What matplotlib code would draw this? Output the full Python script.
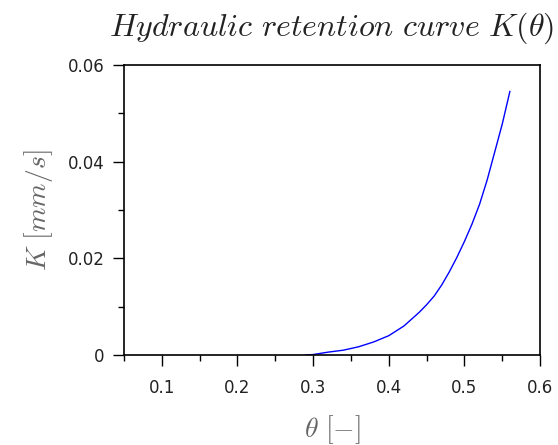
import numpy as np
import matplotlib
matplotlib.use('Agg')
from matplotlib import pyplot as plt
from matplotlib.ticker import MultipleLocator

plt.rcParams['mathtext.fontset'] = 'cm'
plt.rcParams['font.family'] = ['DejaVu Sans']

# values
theta = [0.29, 0.30, 0.32, 0.34, 0.36, 0.38, 0.40, 0.42, 0.44, 0.45,
         0.46, 0.47, 0.48, 0.49, 0.50, 0.51, 0.52, 0.53, 0.54, 0.55, 0.56]
K = [0.0000, 0.0001, 0.0006, 0.0010, 0.0017, 0.0027, 0.0040, 0.0060,
     0.0088, 0.0104, 0.0122, 0.0145, 0.0172, 0.0202, 0.0235, 0.0271,
     0.0312, 0.0362, 0.0420, 0.0478, 0.0545]

xticks = [0.1, 0.2, 0.3, 0.4, 0.5, 0.6]
xticklabels = ['0.1', '0.2', '0.3', '0.4', '0.5', '0.6']
yticks = [0, 0.02, 0.04, 0.06]
yticklabels = ['0', '0.02', '0.04', '0.06']

fig = plt.figure(figsize=(5.58, 4.45), dpi=100)
ax = fig.add_axes([0.222, 0.2022, 0.746, 0.652])

ax.plot(theta, K, color='blue', linewidth=1.0)

ax.set_xlim(0.05, 0.6)
ax.set_ylim(0, 0.06)
ax.set_xticks(xticks)
ax.set_xticklabels(xticklabels)
ax.set_yticks(yticks)
ax.set_yticklabels(yticklabels)
ax.xaxis.set_minor_locator(MultipleLocator(0.05))
ax.yaxis.set_minor_locator(MultipleLocator(0.01))

ax.tick_params(which='major', direction='out', length=8, width=1.0,
               labelsize=12, colors='black', labelcolor='#222222')
ax.tick_params(which='minor', direction='out', length=4, width=1.0)
ax.tick_params(axis='x', which='major', pad=9)
ax.tick_params(axis='y', which='major', pad=6)
for s in ax.spines.values():
    s.set_linewidth(1.2)
    s.set_color('black')

ax.set_title(r'$Hydraulic\ retention\ curve\ K(\theta)$', fontsize=23,
             color='#222222', pad=21)
ax.set_xlabel(r'$\theta\ [-]$', fontsize=20, color='#666666', labelpad=12)
ax.set_ylabel(r'$K\ [mm/s]$', fontsize=20, color='#666666', labelpad=9)

fig.savefig('out.png', dpi=100)
